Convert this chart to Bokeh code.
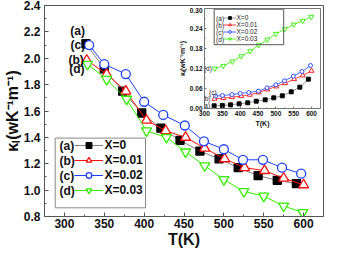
from bokeh.plotting import figure
from bokeh.models import (Range1d, FixedTicker, PrintfTickFormatter, Label,
                          Legend, LegendItem, BoxAnnotation)
from bokeh.layouts import column
from bokeh.embed import file_html
from bokeh.resources import INLINE

# ---------------- data ----------------
series_tags = ["(a)", "(b)", "(c)", "(d)"]
series_names = ["X=0", "X=0.01", "X=0.02", "X=0.03"]

T_a = [327, 350, 373, 397, 421, 445, 470, 494, 518, 543, 567, 591]
T_b = [328, 353, 377, 403, 427, 452, 476, 501, 526, 551, 575, 600]
T_c = [331, 350, 377, 400, 424, 451, 475, 500, 524, 549, 573, 597]
T_d = [329, 353, 378, 403, 428, 452, 476, 500, 525, 550, 575, 599]

kL_a = [2.11, 1.92, 1.75, 1.585, 1.47, 1.378, 1.296, 1.237, 1.17, 1.11, 1.074, 1.05]
kL_b = [1.985, 1.88, 1.75, 1.53, 1.45, 1.40, 1.318, 1.237, 1.17, 1.148, 1.09, 1.04]
kL_c = [2.10, 1.955, 1.88, 1.67, 1.57, 1.49, 1.37, 1.31, 1.23, 1.23, 1.17, 1.125]
kL_d = [1.955, 1.84, 1.69, 1.45, 1.40, 1.29, 1.185, 1.08, 0.99, 0.955, 0.88, 0.83]

ke_a = [0.008, 0.009, 0.011, 0.014, 0.017, 0.022, 0.026, 0.032, 0.038, 0.050, 0.064, 0.088]
ke_b = [0.029, 0.031, 0.034, 0.037, 0.041, 0.048, 0.057, 0.066, 0.076, 0.088, 0.099, 0.113]
ke_c = [0.037, 0.039, 0.042, 0.045, 0.048, 0.052, 0.062, 0.071, 0.083, 0.097, 0.111, 0.129]
ke_d = [0.120, 0.128, 0.141, 0.157, 0.172, 0.190, 0.207, 0.224, 0.238, 0.252, 0.263, 0.275]

main_x_ticks = [300, 350, 400, 450, 500, 550, 600]
main_y_ticks = [0.8, 1.0, 1.2, 1.4, 1.6, 1.8, 2.0, 2.2, 2.4]
inset_x_ticks = [300, 350, 400, 450, 500, 550, 600]
inset_y_ticks = [0.00, 0.06, 0.12, 0.18, 0.24, 0.30]

x_title = "T(K)"
y_title = "κₗ(wK⁻¹m⁻¹)"

# ---------------- styles ----------------
FONT = "Liberation Sans"
markers = ["square", "triangle", "circle", "inverted_triangle"]
mcolors = ["black", "#ff1010", "#2040ff", "#33ee00"]
lcolors = ["#808080", "#ff1010", "#2040ff", "#33ee00"]
fills = ["black", "white", "white", "white"]
main_sizes = [8, 10, 9, 10]
ins_sizes = [4, 5, 4, 5]

Ts = [T_a, T_b, T_c, T_d]
kLs = [kL_a, kL_b, kL_c, kL_d]
kes = [ke_a, ke_b, ke_c, ke_d]


def mids(t):
    return [(t[i] + t[i + 1]) / 2 for i in range(len(t) - 1)]


def style_axes(fig, xt, yt, fmt_y, lab_size, tick_in, minor_in, color, title_size, standoff, lh):
    fig.grid.visible = False
    fig.outline_line_color = color
    fig.xaxis.ticker = FixedTicker(ticks=xt, minor_ticks=mids(xt))
    fig.yaxis.ticker = FixedTicker(ticks=yt, minor_ticks=mids(yt))
    fig.yaxis.formatter = PrintfTickFormatter(format=fmt_y)
    fig.xaxis.axis_label = x_title
    fig.yaxis.axis_label = y_title
    for ax in (fig.xaxis, fig.yaxis):
        ax.axis_line_color = color
        ax.major_tick_line_color = color
        ax.minor_tick_line_color = color
        ax.major_tick_in = tick_in
        ax.major_tick_out = 0
        ax.minor_tick_in = minor_in
        ax.minor_tick_out = 0
        ax.major_label_text_font = FONT
        ax.major_label_text_font_style = "bold"
        ax.major_label_text_font_size = lab_size
        ax.major_label_text_color = "#111111"
        ax.major_label_text_line_height = lh
        ax.axis_label_text_font = FONT
        ax.axis_label_text_font_style = "bold"
        ax.axis_label_text_font_size = title_size
        ax.axis_label_text_color = "#111111"
        ax.axis_label_text_line_height = lh
        ax.axis_label_standoff = standoff


def box(left, right, top, bottom, color):
    # frame-relative pixels (y measured upward from the frame bottom)
    return BoxAnnotation(left=left, right=right, top=top, bottom=bottom,
                         left_units="screen", right_units="screen",
                         top_units="screen", bottom_units="screen",
                         fill_alpha=0, line_color=color, line_alpha=1, line_width=1)


# ---------------- main figure ----------------
p = figure(width=324, height=250, x_range=Range1d(275, 625), y_range=Range1d(0.8, 2.4),
           output_backend="svg", toolbar_location=None,
           min_border_left=38, min_border_right=1, min_border_top=5, min_border_bottom=31)
style_axes(p, main_x_ticks, main_y_ticks, "%.1f", "12px", 4, 2, "#555555", "16px", 0, 0.9)
p.xaxis.major_label_standoff = 2
p.yaxis.major_label_standoff = 4

items = []
for i in range(4):
    lr = p.line(Ts[i], kLs[i], line_color=lcolors[i], line_width=1)
    sr = p.scatter(Ts[i], kLs[i], marker=markers[i], size=main_sizes[i],
                   fill_color=fills[i], line_color=mcolors[i], line_width=1.3)
    items.append(LegendItem(label=series_names[i], renderers=[lr, sr]))

leg = Legend(items=items, location=(26.4, 14.6), glyph_width=29, glyph_height=14,
             label_height=14, spacing=1, padding=4, label_standoff=1, margin=0,
             border_line_alpha=0, background_fill_alpha=0,
             label_text_font=FONT, label_text_font_style="bold",
             label_text_font_size="12px", label_text_color="#111111")
p.add_layout(leg)
p.add_layout(box(10.7, 101, 78.4, 8.7, "#888888"))
for i in range(4):
    p.add_layout(Label(x=15, y=70.6 - 15 * i, x_units="screen", y_units="screen",
                       text=series_tags[i], text_font=FONT, text_font_style="bold",
                       text_font_size="12px", text_baseline="middle", text_color="#111111"))

# curve tags near first points
tag_off = [(-1, 13), (-3, 0), (-4, 0), (-3, -5)]
for i in range(4):
    p.add_layout(Label(x=Ts[i][0], y=kLs[i][0], text=series_tags[i],
                       x_offset=tag_off[i][0], y_offset=tag_off[i][1],
                       text_align="right", text_baseline="middle", text_font=FONT,
                       text_font_style="bold", text_font_size="12px", text_color="#111111"))

# ---------------- inset ----------------
ins = figure(width=161, height=122, x_range=Range1d(300, 625), y_range=Range1d(0, 0.30),
             output_backend="svg", toolbar_location=None,
             min_border_left=26, min_border_right=1, min_border_top=1, min_border_bottom=19)
style_axes(ins, inset_x_ticks, inset_y_ticks, "%.2f", "6.5px", 2, 1, "#777777", "7px", 1, 1.2)
ins.border_fill_alpha = 0
ins.xaxis.major_label_standoff = 2
ins.yaxis.major_label_standoff = 2

iitems = []
for i in range(4):
    lr = ins.line(Ts[i], kes[i], line_color=lcolors[i], line_width=0.8)
    sr = ins.scatter(Ts[i], kes[i], marker=markers[i], size=ins_sizes[i],
                     fill_color=fills[i], line_color=mcolors[i], line_width=0.9)
    iitems.append(LegendItem(label=series_names[i], renderers=[lr, sr]))

ileg = Legend(items=iitems, location=(16.5, 63.6), glyph_width=13, glyph_height=7,
              label_height=7, spacing=0, padding=2, label_standoff=1, margin=0,
              border_line_alpha=0, background_fill_alpha=0,
              label_text_font=FONT, label_text_font_size="6.5px",
              label_text_color="#222222")
ins.add_layout(ileg)
ins.add_layout(box(9.7, 79.2, 99.3, 63.8, "#555555"))
for i in range(4):
    ins.add_layout(Label(x=11.6, y=90.1 - 7 * i, x_units="screen", y_units="screen",
                         text=series_tags[i], text_font=FONT, text_font_size="6.5px",
                         text_baseline="middle", text_color="#222222"))
itag_off = [(-4, 0), (-4, 0), (1, 4), (-3, 0)]
for i in range(4):
    ins.add_layout(Label(x=Ts[i][0], y=kes[i][0], text=series_tags[i],
                         x_offset=itag_off[i][0], y_offset=itag_off[i][1],
                         text_align="right", text_baseline="middle", text_font=FONT,
                         text_font_size="6.5px", text_color="#222222"))

ins.styles = {"position": "absolute", "left": "160px", "top": "7px"}

layout = column(p, ins)
open("out.html", "w").write(file_html(layout, INLINE))
